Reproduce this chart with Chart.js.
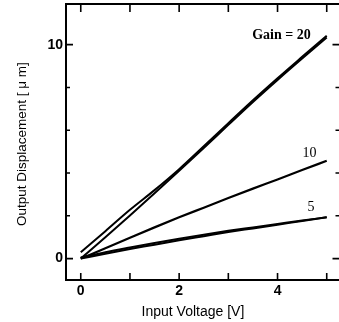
<!DOCTYPE html>
<html>
<head>
<meta charset="utf-8">
<script src="https://cdn.jsdelivr.net/npm/chart.js"></script>
<style>
  html, body { margin: 0; padding: 0; background: #fff; overflow: hidden; }
  canvas { display: block; }
</style>
</head>
<body>
<canvas id="myChart" width="342" height="322"></canvas>
<script>
// input voltage [V]
const voltage = [0, 0.5, 1, 1.5, 2, 2.5, 3, 3.5, 4, 4.5, 5];

// output displacement [um], rising and falling sweep for each gain
const gain20Up = [0, 1.0, 2.02, 3.05, 4.1, 5.17, 6.25, 7.32, 8.35, 9.35, 10.33];
const gain20Down = [0.3, 1.28, 2.28, 3.2, 4.18, 5.25, 6.33, 7.4, 8.43, 9.43, 10.42];
const gain10 = [0, 0.48, 0.98, 1.46, 1.93, 2.38, 2.83, 3.27, 3.7, 4.14, 4.57];
const gain5Up = [0, 0.23, 0.45, 0.65, 0.86, 1.05, 1.24, 1.41, 1.58, 1.76, 1.93];
const gain5Down = [0.05, 0.3, 0.52, 0.73, 0.93, 1.12, 1.3, 1.46, 1.62, 1.78, 1.93];

const curveNames = ['Gain = 20', '10', '5'];

const xTicks = [0, 1, 2, 3, 4, 5];
const xLabels = [0, 2, 4];
const yTicks = [0, 2, 4, 6, 8, 10];
const yLabels = [0, 10];

const sans = '"Liberation Sans", Arial, sans-serif';
const serif = '"Liberation Serif", "Times New Roman", serif';

function pts(ys) {
  return voltage.map((v, i) => ({ x: v, y: ys[i] }));
}

function line(ys, width) {
  return {
    data: pts(ys),
    borderColor: '#000',
    borderWidth: width || 2,
    pointRadius: 0,
    cubicInterpolationMode: 'monotone',
    fill: false
  };
}

// box, inward tick marks, axis titles and curve names
const framePlugin = {
  id: 'frame',
  afterDraw(chart) {
    const { ctx, chartArea: a, scales: { x, y } } = chart;
    ctx.save();
    ctx.strokeStyle = '#000';
    ctx.lineWidth = 2;
    ctx.strokeRect(a.left, a.top, a.right - a.left, a.bottom - a.top);

    ctx.lineWidth = 1.6;
    ctx.beginPath();
    xTicks.forEach(v => {
      const px = x.getPixelForValue(v);
      ctx.moveTo(px, a.bottom);
      ctx.lineTo(px, a.bottom - 7);
      ctx.moveTo(px, a.top);
      ctx.lineTo(px, a.top + 8);
    });
    yTicks.forEach(v => {
      const py = y.getPixelForValue(v);
      const len = yLabels.includes(v) ? 7 : 4;
      ctx.moveTo(a.left, py);
      ctx.lineTo(a.left + len, py);
      ctx.moveTo(a.right, py);
      ctx.lineTo(a.right - len - 1, py);
    });
    ctx.stroke();

    ctx.fillStyle = '#000';
    ctx.textAlign = 'center';
    ctx.textBaseline = 'middle';

    ctx.font = '14px ' + sans;
    ctx.fillText('Input Voltage [V]', x.getPixelForValue(2.28), 312);

    ctx.save();
    ctx.translate(22, y.getPixelForValue(5.35));
    ctx.rotate(-Math.PI / 2);
    ctx.font = '13.5px ' + sans;
    ctx.fillText('Output Displacement [ \u03bc m]', 0, 0);
    ctx.restore();

    ctx.font = 'bold 14px ' + serif;
    ctx.fillText(curveNames[0], x.getPixelForValue(4.08), y.getPixelForValue(10.44));
    ctx.font = '14px ' + serif;
    ctx.fillText(curveNames[1], x.getPixelForValue(4.65), y.getPixelForValue(4.94));
    ctx.fillText(curveNames[2], x.getPixelForValue(4.68), y.getPixelForValue(2.38));
    ctx.restore();
  }
};

const ctx = document.getElementById('myChart');

new Chart(ctx, {
  type: 'line',
  data: {
    datasets: [
      line(gain20Up),
      line(gain20Down),
      line(gain10, 2.2),
      line(gain5Up),
      line(gain5Down)
    ]
  },
  options: {
    responsive: false,
    animation: false,
    devicePixelRatio: 1,
    layout: { padding: { top: 4, right: 1.5, left: 0, bottom: 0 } },
    plugins: {
      legend: { display: false },
      tooltip: { enabled: false }
    },
    scales: {
      x: {
        type: 'linear',
        min: -0.3,
        max: 5.28,
        grid: { display: false, drawTicks: false },
        border: { display: false },
        afterBuildTicks: s => { s.ticks = xTicks.map(v => ({ value: v })); },
        afterFit: s => { s.height = 42; s.paddingLeft = 0; s.paddingRight = 0; },
        ticks: {
          padding: 3,
          color: '#000',
          font: { family: sans, size: 14, weight: 'bold' },
          callback: v => xLabels.includes(v) ? String(v) : ''
        }
      },
      y: {
        type: 'linear',
        min: -1,
        max: 11.9,
        grid: { display: false, drawTicks: false },
        border: { display: false },
        afterBuildTicks: s => { s.ticks = yTicks.map(v => ({ value: v })); },
        afterFit: s => { s.width = 66; s.paddingTop = 0; s.paddingBottom = 0; },
        ticks: {
          padding: 3,
          color: '#000',
          font: { family: sans, size: 14, weight: 'bold' },
          callback: v => yLabels.includes(v) ? String(v) : ''
        }
      }
    }
  },
  plugins: [framePlugin]
});
</script>
</body>
</html>
